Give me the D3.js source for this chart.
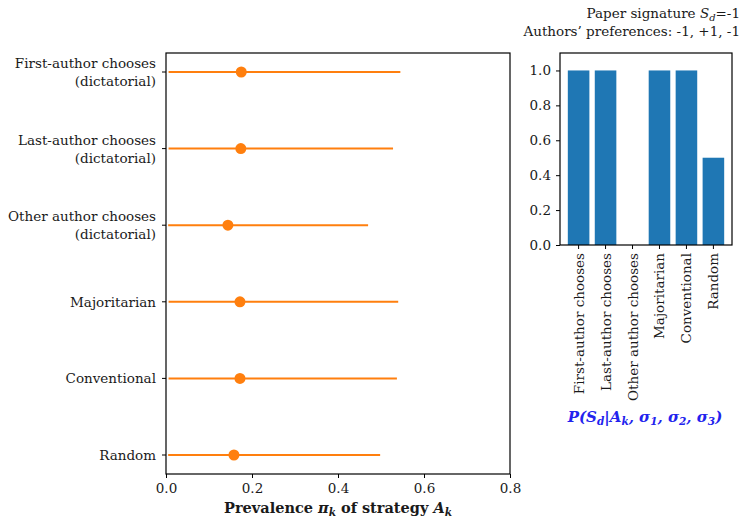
<!DOCTYPE html>
<html>
<head>
<meta charset="utf-8">
<script src="https://cdn.jsdelivr.net/npm/d3@7"></script>
<style>
body { margin: 0; background: #fff; }
</style>
</head>
<body>
<div id="chart"></div>
<script>
// strategy labels (two lines where the figure wraps them)
var strategies = [
    ["First-author chooses", "(dictatorial)"],
    ["Last-author chooses", "(dictatorial)"],
    ["Other author chooses", "(dictatorial)"],
    ["Majoritarian"],
    ["Conventional"],
    ["Random"]
];
var barLabels = ["First-author chooses", "Last-author chooses", "Other author chooses",
    "Majoritarian", "Conventional", "Random"];

// prevalence estimate and interval
var prevMean = [0.175, 0.174, 0.144, 0.172, 0.172, 0.158];
var prevLow  = [0.006, 0.006, 0.005, 0.006, 0.006, 0.005];
var prevHigh = [0.545, 0.528, 0.470, 0.540, 0.537, 0.498];

// P(S_d | A_k, sigma)
var probSig = [1, 1, 0, 1, 1, 0.5];

var xTicks = [0, 0.2, 0.4, 0.6, 0.8];
var yTicks = [0, 0.2, 0.4, 0.6, 0.8, 1.0];

var W = 741, H = 520;
var orange = "#ff7f0e", blue = "#1f77b4";
var FONT = "'DejaVu Serif', serif";
var fs = 13.5;
var ink = "#1a1a1a";

var svg = d3.select("#chart").append("svg")
    .attr("width", W).attr("height", H)
    .style("font-family", FONT);

// ---------- left panel ----------
var L = {left: 166, right: 510, top: 53, bottom: 474};
var x = d3.scaleLinear().domain([0, 0.8]).range([L.left, L.right]);
var y = d3.scalePoint().domain(d3.range(strategies.length)).range([72, 455]);

var g = svg.append("g");

var rows = g.selectAll(".row").data(strategies).enter().append("g");
rows.append("line")
    .attr("x1", function (d, i) { return x(prevLow[i]); })
    .attr("x2", function (d, i) { return x(prevHigh[i]); })
    .attr("y1", function (d, i) { return y(i); })
    .attr("y2", function (d, i) { return y(i); })
    .attr("stroke", orange).attr("stroke-width", 2);
rows.append("circle")
    .attr("cx", function (d, i) { return x(prevMean[i]); })
    .attr("cy", function (d, i) { return y(i); })
    .attr("r", 5.5).attr("fill", orange);

g.append("rect")
    .attr("x", L.left).attr("y", L.top)
    .attr("width", L.right - L.left).attr("height", L.bottom - L.top)
    .attr("fill", "none").attr("stroke", "#000").attr("stroke-width", 1.2);

var xAxis = g.append("g").attr("transform", "translate(0," + L.bottom + ")")
    .call(d3.axisBottom(x).tickValues(xTicks).tickSize(4).tickPadding(5).tickFormat(d3.format(".1f")));
xAxis.attr("font-family", FONT).attr("font-size", fs);
xAxis.select(".domain").remove();
xAxis.selectAll("text").attr("fill", ink);

// y ticks + labels
rows.append("line")
    .attr("x1", L.left - 4).attr("x2", L.left)
    .attr("y1", function (d, i) { return y(i); })
    .attr("y2", function (d, i) { return y(i); })
    .attr("stroke", "#000");
rows.each(function (d, i) {
    var t = d3.select(this).append("text")
        .attr("text-anchor", "end").attr("font-size", fs).attr("fill", ink)
        .attr("x", L.left - 10);
    var n = d.length;
    d.forEach(function (s, j) {
        t.append("tspan").attr("x", L.left - 10)
            .attr("y", y(i) + 5 + (j - (n - 1) / 2) * 18)
            .text(s);
    });
});

// x label
var xl = g.append("text").attr("x", (L.left + L.right) / 2).attr("y", 513)
    .attr("text-anchor", "middle").attr("font-size", 14.5).attr("font-weight", "bold").attr("fill", ink);
xl.append("tspan").text("Prevalence ");
xl.append("tspan").attr("font-style", "italic").text("π");
xl.append("tspan").attr("font-style", "italic").attr("font-size", 10.5).attr("dy", 3).text("k");
xl.append("tspan").attr("dy", -3).text(" of strategy ");
xl.append("tspan").attr("font-style", "italic").text("A");
xl.append("tspan").attr("font-style", "italic").attr("font-size", 10.5).attr("dy", 3).text("k");

// ---------- right panel ----------
var R = {left: 560, right: 732, top: 53, bottom: 245};
var xb = d3.scaleLinear().domain([-0.69, 5.69]).range([R.left, R.right]);
var yb = d3.scaleLinear().domain([0, 1.1]).range([R.bottom, R.top]);

var gb = svg.append("g");
gb.selectAll(".bar").data(probSig).enter().append("rect")
    .attr("x", function (d, i) { return xb(i - 0.4); })
    .attr("width", function (d, i) { return xb(i + 0.4) - xb(i - 0.4); })
    .attr("y", function (d) { return yb(d); })
    .attr("height", function (d) { return yb(0) - yb(d); })
    .attr("fill", blue);

gb.append("rect")
    .attr("x", R.left).attr("y", R.top)
    .attr("width", R.right - R.left).attr("height", R.bottom - R.top)
    .attr("fill", "none").attr("stroke", "#000").attr("stroke-width", 1.2);

var yAxis = gb.append("g").attr("transform", "translate(" + R.left + ",0)")
    .call(d3.axisLeft(yb).tickValues(yTicks).tickSize(4).tickPadding(5).tickFormat(d3.format(".1f")));
yAxis.attr("font-family", FONT).attr("font-size", fs);
yAxis.select(".domain").remove();
yAxis.selectAll("text").attr("fill", ink);

var bx = gb.selectAll(".bl").data(barLabels).enter().append("g")
    .attr("transform", function (d, i) { return "translate(" + xb(i) + "," + R.bottom + ")"; });
bx.append("line").attr("y1", 0).attr("y2", 4).attr("stroke", "#000");
bx.append("text")
    .attr("transform", "translate(5,8) rotate(-90)")
    .attr("text-anchor", "end").attr("font-size", fs).attr("fill", ink)
    .text(function (d) { return d; });

// P(S_d | A_k, sigma_1, sigma_2, sigma_3)
var pl = gb.append("text").attr("x", (R.left + R.right) / 2 - 1).attr("y", 422)
    .attr("text-anchor", "middle").attr("font-size", 15)
    .attr("font-weight", "bold").attr("font-style", "italic")
    .attr("fill", "#2222ee");
pl.append("tspan").text("P(S");
pl.append("tspan").attr("font-size", 10.5).attr("dy", 3).text("d");
pl.append("tspan").attr("dy", -3).text("|A");
pl.append("tspan").attr("font-size", 10.5).attr("dy", 3).text("k");
pl.append("tspan").attr("dy", -3).text(", σ");
pl.append("tspan").attr("font-size", 10.5).attr("dy", 3).text("1");
pl.append("tspan").attr("dy", -3).text(", σ");
pl.append("tspan").attr("font-size", 10.5).attr("dy", 3).text("2");
pl.append("tspan").attr("dy", -3).text(", σ");
pl.append("tspan").attr("font-size", 10.5).attr("dy", 3).text("3");
pl.append("tspan").attr("dy", -3).text(")");

// title
var t1 = svg.append("text").attr("x", 740).attr("y", 18)
    .attr("text-anchor", "end").attr("font-size", fs).attr("fill", ink);
t1.append("tspan").text("Paper signature ");
t1.append("tspan").attr("font-style", "italic").text("S");
t1.append("tspan").attr("font-style", "italic").attr("font-size", 10).attr("dy", 3).text("d");
t1.append("tspan").attr("dy", -3).text("=-1");
svg.append("text").attr("x", 740).attr("y", 36)
    .attr("text-anchor", "end").attr("font-size", fs).attr("fill", ink)
    .text("Authors\u2019 preferences: -1, +1, -1");
</script>
</body>
</html>
